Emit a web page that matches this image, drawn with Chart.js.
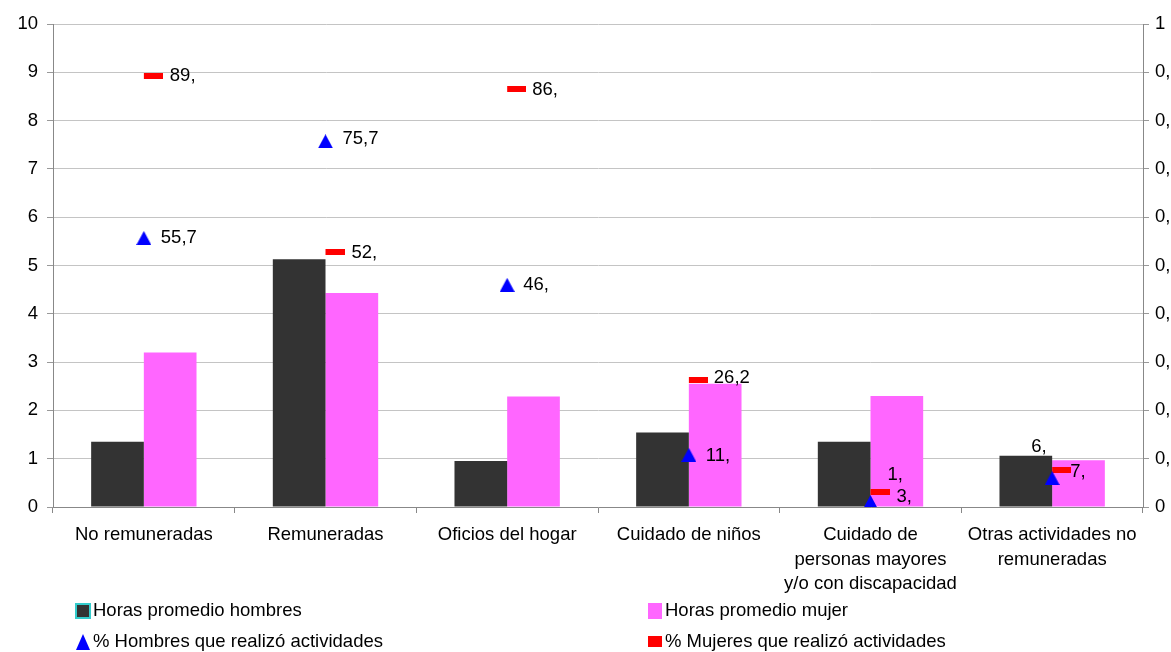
<!DOCTYPE html>
<html>
<head>
<meta charset="utf-8">
<script src="https://cdn.jsdelivr.net/npm/chart.js@4.4.0/dist/chart.umd.min.js"></script>
<style>
  body { margin: 0; background: #fff; font-family: "Liberation Sans", Arial, sans-serif; }
  #wrap { position: relative; width: 1171px; height: 652px; }
  .leg { position: absolute; font-size: 18.5px; color: #000; white-space: nowrap; line-height: 20px; }
  .mk { position: absolute; box-sizing: border-box; }
</style>
</head>
<body>
<div id="wrap">
  <canvas id="grafico" width="1171" height="652"></canvas>
  <div class="mk" style="left:75px;top:603px;width:16px;height:16px;background:#333;border:2px solid #33CCCC;"></div>
  <div class="leg" style="left:93px;top:600px;">Horas promedio hombres</div>
  <div class="mk" style="left:648px;top:603px;width:14px;height:16px;background:#FF66FF;"></div>
  <div class="leg" style="left:665px;top:600px;">Horas promedio mujer</div>
  <div class="mk" style="left:76px;top:634px;width:0;height:0;border-left:7.5px solid transparent;border-right:7.5px solid transparent;border-bottom:16px solid #0000FF;"></div>
  <div class="leg" style="left:93px;top:631px;">% Hombres que realizó actividades</div>
  <div class="mk" style="left:648px;top:636px;width:14px;height:11px;background:#FF0000;"></div>
  <div class="leg" style="left:665px;top:631px;">% Mujeres que realizó actividades</div>
</div>
<script>
// datos
const categorias = [
  'No remuneradas',
  'Remuneradas',
  'Oficios del hogar',
  'Cuidado de niños',
  ['Cuidado de', 'personas mayores', 'y/o con discapacidad'],
  ['Otras actividades no', 'remuneradas']
];
const horasHombres = [1.35, 5.13, 0.95, 1.54, 1.35, 1.06];
const horasMujer = [3.2, 4.43, 2.29, 2.55, 2.30, 0.97];
const pctHombres = [0.557, 0.757, 0.46, 0.108, 0.0104, 0.06];
const pctMujeres = [0.892, 0.528, 0.865, 0.262, 0.031, 0.077];
const etiquetasHombres = ['55,7', '75,7', '46,', '11,', '1,', '6,'];
const etiquetasMujeres = ['89,', '52,', '86,', '26,2', '3,', '7,'];

// desplazamiento de las etiquetas respecto al punto
const despHombres = [[17, 0], [17, -2], [16, 0], [17, 1], [17, -27], [-21, -31]];
const despMujeres = [[26, 0], [26, 1], [25, 1], [25, -3], [26, 5], [18, 2]];

const fuente = '"Liberation Sans", Arial, sans-serif';
Chart.defaults.font.family = fuente;
Chart.defaults.font.size = 18.5;
Chart.defaults.color = '#000';

// marcadores tipo Excel
const triangulo = document.createElement('canvas');
triangulo.width = 15; triangulo.height = 14;
let c = triangulo.getContext('2d');
c.fillStyle = '#0000FF';
c.beginPath(); c.moveTo(0, 14); c.lineTo(7.5, 0); c.lineTo(15, 14); c.closePath(); c.fill();

const guion = document.createElement('canvas');
guion.width = 38; guion.height = 6;
c = guion.getContext('2d');
c.fillStyle = '#FF0000';
c.fillRect(19, 0, 19, 6);

const etiquetasPlugin = {
  id: 'etiquetas',
  afterDatasetsDraw(chart) {
    const ctx = chart.ctx;
    ctx.save();
    ctx.font = '18.5px ' + fuente;
    ctx.fillStyle = '#000';
    ctx.textBaseline = 'middle';
    ctx.textAlign = 'left';
    [[2, etiquetasHombres, despHombres], [3, etiquetasMujeres, despMujeres]].forEach(([di, txt, desp]) => {
      chart.getDatasetMeta(di).data.forEach((p, i) => {
        ctx.fillText(txt[i], p.x + desp[i][0], p.y + desp[i][1]);
      });
    });
    ctx.restore();
  }
};

const ctx = document.getElementById('grafico').getContext('2d');
new Chart(ctx, {
  type: 'bar',
  data: {
    labels: categorias,
    datasets: [
      { label: 'Horas promedio hombres', data: horasHombres, backgroundColor: '#333333', yAxisID: 'y', order: 2 },
      { label: 'Horas promedio mujer', data: horasMujer, backgroundColor: '#FF66FF', yAxisID: 'y', order: 2 },
      { type: 'line', label: '% Hombres que realizó actividades', data: pctHombres, yAxisID: 'y1', showLine: false,
        pointStyle: triangulo, order: 0 },
      { type: 'line', label: '% Mujeres que realizó actividades', data: pctMujeres, yAxisID: 'y1', showLine: false,
        pointStyle: guion, order: 1 }
    ]
  },
  options: {
    responsive: false,
    animation: false,
    events: [],
    layout: { padding: { top: 24, left: 0, right: 0, bottom: 0 } },
    datasets: { bar: { categoryPercentage: 0.58, barPercentage: 1.0 } },
    plugins: { legend: { display: false }, tooltip: { enabled: false } },
    scales: {
      x: {
        offset: true,
        grid: { offset: true, drawOnChartArea: false, tickLength: 6, color: '#888' },
        border: { color: '#888' },
        ticks: { padding: 10, maxRotation: 0, autoSkip: false, font: { size: 18.5, lineHeight: 1.324 } },
        afterFit(s) { s.height = 145; }
      },
      y: {
        position: 'left',
        min: 0, max: 10,
        ticks: { stepSize: 1, padding: 9 },
        grid: { color: '#C4C4C4', tickLength: 6, tickColor: '#999' },
        border: { color: '#888' },
        afterFit(s) { s.width = 53; }
      },
      y1: {
        position: 'right',
        min: 0, max: 1,
        ticks: {
          stepSize: 0.1, padding: 6,
          callback: v => (v < 0.001 ? '0' : v > 0.999 ? '1' : '0,')
        },
        grid: { drawOnChartArea: false, tickLength: 6, color: '#999' },
        border: { color: '#888' },
        afterFit(s) { s.width = 28; }
      }
    }
  },
  plugins: [etiquetasPlugin]
});
</script>
</body>
</html>
